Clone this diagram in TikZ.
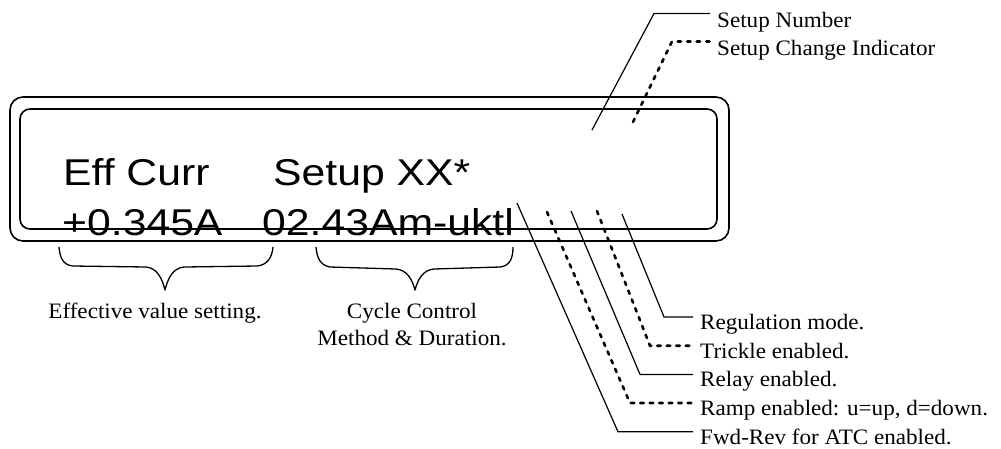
\documentclass[tikz,border=0pt]{standalone}
\usepackage{fontspec}
\setmainfont[FakeStretch=1.05]{Liberation Serif}
\newfontfamily\lcdfont[FakeStretch=1.145]{Liberation Sans}
\usetikzlibrary{positioning, calc}

\begin{document}
\begin{tikzpicture}[
    x=1pt, y=-1pt,
    lcdtext/.style={anchor=base west, inner sep=0pt,
                    font=\lcdfont\fontsize{37.3}{40}\selectfont},
    tag/.style={anchor=base west, inner sep=0pt, inner xsep=7pt,
                font=\fontsize{22}{27}\selectfont},
    note/.style={anchor=base, inner sep=0pt, align=center,
                 font=\fontsize{22}{27}\selectfont},
    leader/.style={line width=1.2pt},
    dashleader/.style={line width=2.6pt, line cap=round,
                       dash pattern=on 3.5pt off 6pt},
    frame/.style={line width=1.6pt},
    brace line/.style={line width=1.3pt, line join=round}
  ]
    \useasboundingbox (0,0) rectangle (1001,448);

    % LCD panel
    \draw[frame, rounded corners=13pt] (10,97) rectangle (729,241);
    \draw[frame, rounded corners=10pt] (20,109) rectangle (717,229);
    \node[lcdtext] (eff)   at (63,185)  {Eff Curr};
    \node[lcdtext] (setup) at (273,185) {Setup XX*};
    \node[lcdtext] (val)   at (62,235)  {+0.345A};
    \node[lcdtext] (cyc)   at (262,235) {02.43Am-uktl};

    % braces under the second row
    \draw[brace line] (59,247) .. controls (60,258) and (63,265) .. (73,266)
      -- (146,267) .. controls (157,268) and (162,278) .. (165,290)
      .. controls (168,278) and (173,268) .. (184,267)
      -- (257,266) .. controls (267,265) and (272,258) .. (273,247);
    \draw[brace line] (316,247) .. controls (317,258) and (320,265) .. (330,267)
      -- (396,269) .. controls (407,270) and (412,279) .. (415,290)
      .. controls (418,279) and (423,270) .. (434,269)
      -- (500,267) .. controls (510,266) and (513,258) .. (513,247);
    \node[note] (effNote) at (155,318) {Effective value setting.};
    \node[note] (cycNote) at (412,345) {Cycle Control\\Method \& Duration.};

    % setup leaders
    \coordinate (pNum) at (592,130);  \coordinate (kNum) at (654,13.5);
    \coordinate (pChg) at (633,122);  \coordinate (kChg) at (672,41.5);
    \node[tag] (lNum) at (710,27) {Setup Number};
    \node[tag] (lChg) at (710,55) {Setup Change Indicator};
    \draw[leader]     (pNum) -- (kNum) -- (kNum -| lNum.west);
    \draw[dashleader] (pChg) -- (kChg) -- (kChg -| lChg.west);

    % status leaders
    \coordinate (pReg)   at (622,214); \coordinate (kReg)   at (664,317);
    \coordinate (pTrk)   at (597,211); \coordinate (kTrk)   at (650,345.7);
    \coordinate (pRly)   at (571,211); \coordinate (kRly)   at (640,374.4);
    \coordinate (pRamp)  at (547,212); \coordinate (kRamp)  at (630,403);
    \coordinate (pFwd)   at (517,203); \coordinate (kFwd)   at (618,431.8);
    \node[tag] (lReg)  at (693,329.5) {Regulation mode.};
    \node[tag] (lTrk)  at (693,358.2) {Trickle enabled.};
    \node[tag] (lRly)  at (693,386.9) {Relay enabled.};
    \node[tag] (lRamp) at (693,415.5) {Ramp enabled: u=up, d=down.};
    \node[tag] (lFwd)  at (693,444.3) {Fwd-Rev for ATC enabled.};
    \draw[leader]     (pReg)  -- (kReg)  -- (kReg -| lReg.west);
    \draw[dashleader] (pTrk)  -- (kTrk)  -- (kTrk -| lTrk.west);
    \draw[leader]     (pRly)  -- (kRly)  -- (kRly -| lRly.west);
    \draw[dashleader] (pRamp) -- (kRamp) -- (kRamp -| lRamp.west);
    \draw[leader]     (pFwd)  -- (kFwd)  -- (kFwd -| lFwd.west);
  \end{tikzpicture}
\end{document}
